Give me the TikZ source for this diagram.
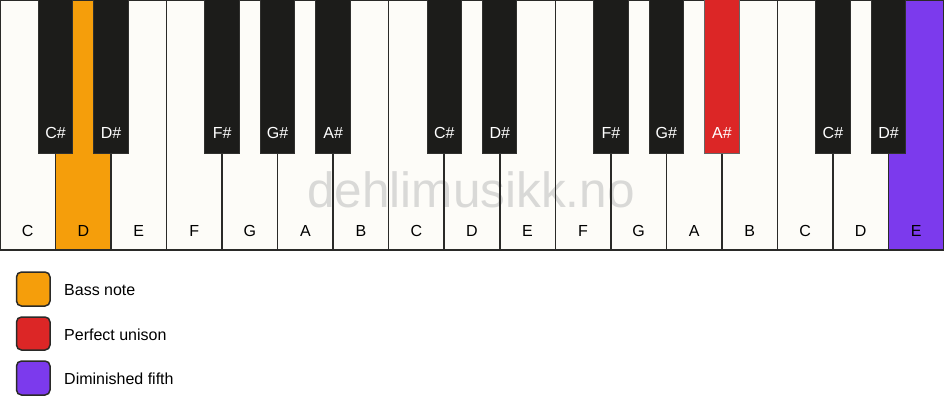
\documentclass[tikz,border=0pt]{standalone}
\usepackage{fontspec}
\setmainfont{Liberation Sans}
\definecolor{wkey}{HTML}{FDFCF8}
\definecolor{bkey}{HTML}{1C1C1A}
\definecolor{edge}{HTML}{2A2A28}
\definecolor{bassc}{HTML}{F59E0B}
\definecolor{unisc}{HTML}{DC2626}
\definecolor{dimc}{HTML}{7C3AED}
\definecolor{wmark}{HTML}{D9D9D7}
\tikzset{
  whitefill/.style={fill=wkey},
  keyedge/.style={draw=edge, line width=1.5pt},
  blackkey/.style={fill=bkey, draw=bkey!80!gray, line width=1pt},
  wlabel/.style={anchor=base, text=black, font=\fontsize{16}{19}\selectfont, inner sep=0pt},
  blabel/.style={anchor=base, text=white, font=\fontsize{16}{19}\selectfont, inner sep=0pt},
  legbox/.style={draw=edge, line width=1.5pt, rounded corners=5pt},
  legtext/.style={anchor=base west, text=black, font=\fontsize{16}{19}\selectfont, inner sep=0pt}
}
\begin{document}
\begin{tikzpicture}[x=1pt,y=-1pt]
\useasboundingbox (0,0) rectangle (944,417);
\fill[white] (0,0) rectangle (944,417);
\def\kw{55.53}
\def\bw{34.4}
% white key fills
\foreach \i in {0,...,16} {
  \fill[wkey] ({\i*\kw},0) rectangle ({(\i+1)*\kw},250);
}
\fill[bassc] ({1*\kw},0) rectangle ({2*\kw},250);
\fill[dimc] ({16*\kw},0) rectangle ({17*\kw},250);
% watermark
\node[text=wmark, font=\fontsize{49.5}{54}\selectfont, anchor=base, inner sep=0pt] (wm) at (471,207) {dehlimusikk.no};
% white key outlines
\foreach \i in {0,...,16} {
  \draw[keyedge] ({\i*\kw},0) rectangle ({(\i+1)*\kw},250);
}
% white labels
\foreach \n [count=\i from 0] in {C,D,E,F,G,A,B,C,D,E,F,G,A,B,C,D,E} {
  \node[wlabel] (wl\i) at ({(\i+0.5)*\kw},236) {\n};
}
% black keys
\foreach \b/\n in {1/C\#,2/D\#,4/F\#,5/G\#,6/A\#,8/C\#,9/D\#,11/F\#,12/G\#,13/A\#,15/C\#,16/D\#} {
  \ifnum\b=13
    \draw[fill=unisc, draw=gray!80!black, line width=1pt] ({\b*\kw-\bw/2},0) rectangle ({\b*\kw+\bw/2},153);
  \else
    \draw[blackkey] ({\b*\kw-\bw/2},0) rectangle ({\b*\kw+\bw/2},153);
  \fi
  \node[blabel] (bl\b) at ({\b*\kw},139) {\n};
}
% legend
\draw[legbox, fill=bassc] (16.5,272) rectangle (50,306);
\node[legtext] (lt1) at (64,295) {Bass note};
\draw[legbox, fill=unisc] (16.5,317) rectangle (50,350);
\node[legtext] (lt2) at (64,340) {Perfect unison};
\draw[legbox, fill=dimc] (16.5,361) rectangle (50,395);
\node[legtext] (lt3) at (64,384) {Diminished fifth};
\end{tikzpicture}
\end{document}
